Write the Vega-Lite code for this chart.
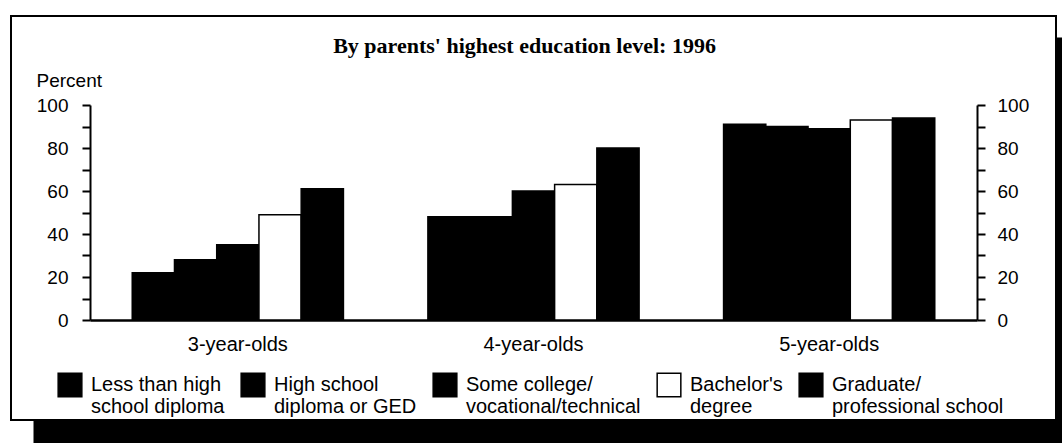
{
  "$schema": "https://vega.github.io/schema/vega-lite/v6.json",
  "width": 1045,
  "height": 404,
  "autosize": {"type": "none"},
  "padding": {"left": 11, "top": 16, "right": 6, "bottom": 23},
  "background": "white",
  "data": {
    "values": [
      {"age": "3-year-olds", "edu": "Less than high school diploma", "pct": 22},
      {"age": "3-year-olds", "edu": "High school diploma or GED", "pct": 28},
      {"age": "3-year-olds", "edu": "Some college/vocational/technical", "pct": 35},
      {"age": "3-year-olds", "edu": "Bachelor's degree", "pct": 49},
      {"age": "3-year-olds", "edu": "Graduate/professional school", "pct": 61},
      {"age": "4-year-olds", "edu": "Less than high school diploma", "pct": 48},
      {"age": "4-year-olds", "edu": "High school diploma or GED", "pct": 48},
      {"age": "4-year-olds", "edu": "Some college/vocational/technical", "pct": 60},
      {"age": "4-year-olds", "edu": "Bachelor's degree", "pct": 63},
      {"age": "4-year-olds", "edu": "Graduate/professional school", "pct": 80},
      {"age": "5-year-olds", "edu": "Less than high school diploma", "pct": 91},
      {"age": "5-year-olds", "edu": "High school diploma or GED", "pct": 90},
      {"age": "5-year-olds", "edu": "Some college/vocational/technical", "pct": 89},
      {"age": "5-year-olds", "edu": "Bachelor's degree", "pct": 93},
      {"age": "5-year-olds", "edu": "Graduate/professional school", "pct": 94}
    ]
  },
  "layer": [
    {
      "mark": {"type": "bar", "stroke": "black", "strokeWidth": 1.5, "opacity": 1},
      "encoding": {
        "x": {
          "field": "age", "type": "nominal",
          "scale": {"range": [79, 966], "paddingInner": 0, "paddingOuter": 0},
          "axis": {
            "orient": "bottom", "offset": -100, "title": null, "labelAngle": 0,
            "domain": true, "domainColor": "black", "domainWidth": 2.5,
            "ticks": false, "labelPadding": 14, "labelFontSize": 20,
            "labelFont": "Liberation Sans", "labelColor": "black", "labelBaseline": "top"
          }
        },
        "xOffset": {
          "field": "edu", "type": "nominal",
          "scale": {
            "domain": ["Less than high school diploma", "High school diploma or GED", "Some college/vocational/technical", "Bachelor's degree", "Graduate/professional school"],
            "paddingInner": 0, "paddingOuter": 1.05
          }
        },
        "y": {
          "field": "pct", "type": "quantitative",
          "scale": {"domain": [0, 100], "range": [304, 89], "nice": false},
          "axis": {
            "orient": "left", "offset": -79,
            "values": [0, 10, 20, 30, 40, 50, 60, 70, 80, 90, 100],
            "labelExpr": "datum.value % 20 == 0 ? datum.label : ''",
            "grid": false, "domainColor": "black", "domainWidth": 2,
            "tickColor": "black", "tickWidth": 2, "tickSize": 8,
            "labelPadding": 14, "labelFontSize": 19, "labelFont": "Liberation Sans", "labelColor": "black",
            "title": "Percent", "titleAngle": 0, "titleAlign": "left", "titleBaseline": "alphabetic",
            "titleX": -54, "titleY": 70, "titleFontSize": 19, "titleFont": "Liberation Sans",
            "titleFontWeight": "normal", "titleColor": "black"
          }
        },
        "fill": {
          "field": "edu", "type": "nominal",
          "scale": {
            "domain": ["Less than high school diploma", "High school diploma or GED", "Some college/vocational/technical", "Bachelor's degree", "Graduate/professional school"],
            "range": ["black", "black", "black", "white", "black"]
          },
          "legend": {
            "orient": "none", "legendX": 46, "legendY": 356, "direction": "horizontal", "columns": 5,
            "title": null, "padding": 0,
            "symbolType": "square", "symbolSize": 560, "symbolStrokeColor": "black", "symbolStrokeWidth": 1.5, "symbolOpacity": 1,
            "labelFontSize": 20, "labelFont": "Liberation Sans", "labelColor": "black", "labelLimit": 400,
            "labelOffset": 8, "columnPadding": 13,
            "labelExpr": "datum.label == 'Less than high school diploma' ? ['Less than high', 'school diploma'] : datum.label == 'High school diploma or GED' ? ['High school', 'diploma or GED'] : datum.label == 'Some college/vocational/technical' ? ['Some college/', 'vocational/technical'] : datum.label == 'Graduate/professional school' ? ['Graduate/', 'professional school'] : [\"Bachelor's\", 'degree']"
          }
        }
      }
    },
    {
      "mark": {"type": "bar", "opacity": 0},
      "encoding": {
        "x": {
          "field": "age", "type": "nominal",
          "scale": {"range": [79, 966], "paddingInner": 0, "paddingOuter": 0},
          "axis": null
        },
        "y": {
          "field": "pct", "type": "quantitative",
          "scale": {"domain": [0, 100], "range": [304, 89], "nice": false},
          "axis": {
            "orient": "right", "offset": -79,
            "values": [0, 10, 20, 30, 40, 50, 60, 70, 80, 90, 100],
            "labelExpr": "datum.value % 20 == 0 ? datum.label : ''",
            "grid": false, "domainColor": "black", "domainWidth": 2,
            "tickColor": "black", "tickWidth": 2, "tickSize": 8,
            "labelPadding": 12, "labelFontSize": 19, "labelFont": "Liberation Sans", "labelColor": "black",
            "title": "By parents' highest education level:  1996",
            "titleAngle": 0, "titleAlign": "center", "titleBaseline": "alphabetic",
            "titleX": -453, "titleY": 36,
            "titleFont": "Liberation Serif", "titleFontWeight": "bold", "titleFontSize": 22, "titleColor": "black"
          }
        }
      }
    },
    {
      "mark": {"type": "point", "opacity": 0},
      "encoding": {
        "x": {
          "field": "pct", "type": "quantitative",
          "scale": {"domain": [0, 100], "range": [22, 1060], "nice": false},
          "axis": {
            "orient": "bottom", "offset": 11.5, "domainColor": "black", "domainWidth": 23,
            "ticks": false, "labels": false, "grid": false, "title": null
          }
        },
        "y": {
          "field": "pct", "type": "quantitative",
          "scale": {"domain": [0, 100], "range": [427, 21], "nice": false},
          "axis": {
            "orient": "right", "offset": 3, "domainColor": "black", "domainWidth": 6,
            "ticks": false, "labels": false, "grid": false, "title": null
          }
        }
      }
    }
  ],
  "resolve": {"scale": {"x": "independent", "y": "independent"}},
  "config": {
    "view": {"stroke": "black", "strokeWidth": 2, "fill": "white"}
  }
}
